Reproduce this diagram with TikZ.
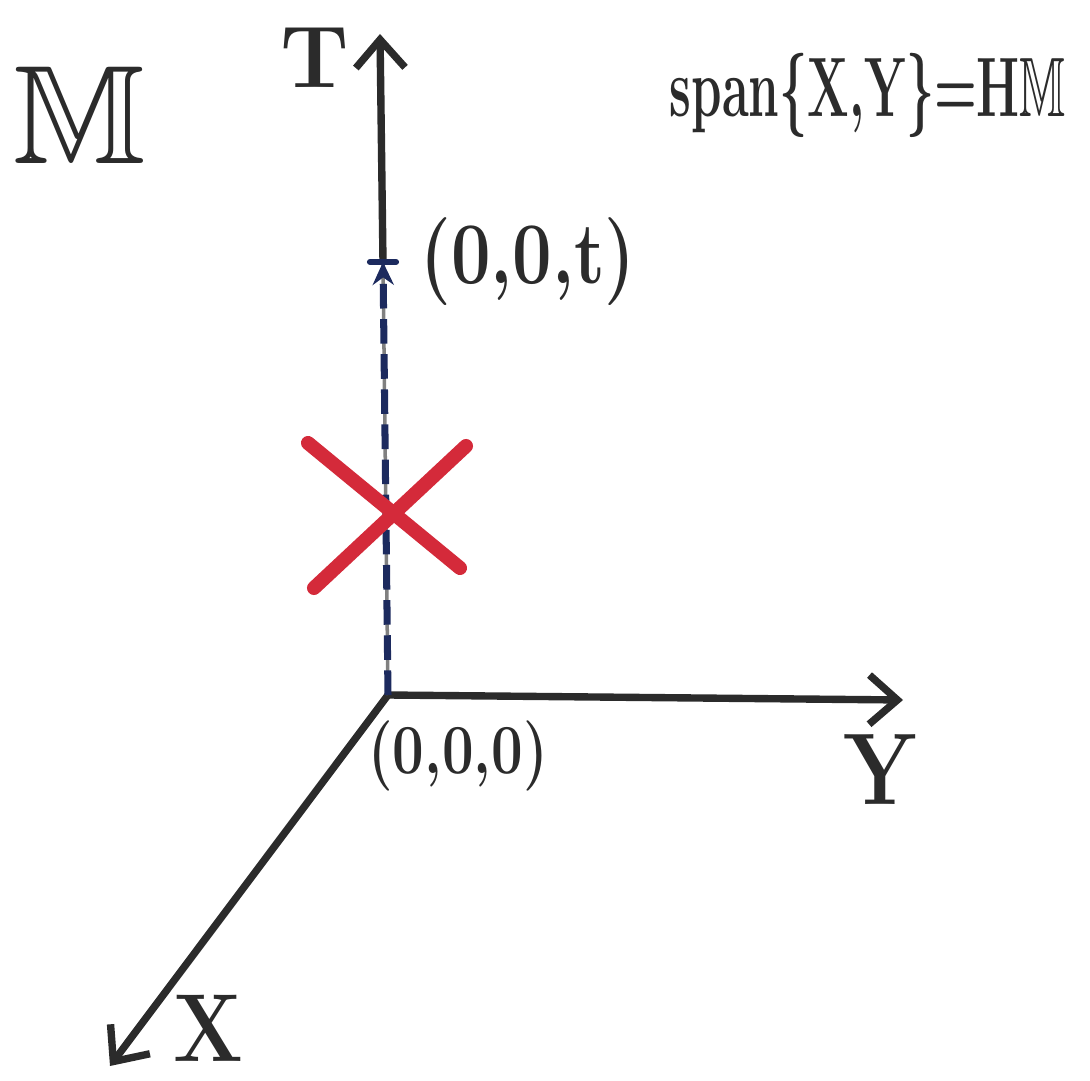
\documentclass[tikz,border=0pt]{standalone}
\usepackage{amssymb}
\usetikzlibrary{arrows.meta}
\definecolor{ink}{HTML}{2B2B2B}
\definecolor{navy}{HTML}{1C2A5E}
\definecolor{redx}{HTML}{D42A3A}
\begin{document}
\begin{tikzpicture}[x=0.02cm,y=-0.02cm,
  axis/.style={draw=ink,line width=4.2pt,line cap=round,
    -{Straight Barb[length=16pt,width=28pt,line width=4.2pt]}},
  lbl/.style={text=ink,inner sep=0pt},
  cross/.style={draw=redx,line width=8pt,line cap=round}]
\useasboundingbox (0,0) rectangle (1090,1081);
\coordinate (O) at (388,695);
\coordinate (Ttop) at (380,34);
\coordinate (Ytip) at (903,700);
\coordinate (Xtip) at (110,1066);
\coordinate (P) at (383,262);
\coordinate (PL) at (370,262);
\coordinate (PR) at (396,262);
\coordinate (r1) at (308,443);
\coordinate (r2) at (460,568);
\coordinate (r3) at (466,446);
\coordinate (r4) at (314,588);
% axes
\draw[axis] (O) -- (Ytip);
\draw[axis] (O) -- (Xtip);
\draw[axis] (P) -- (Ttop);
% dashed path to (0,0,t)
\draw[ink!60,line width=2pt] (O) -- (P);
\draw[navy,line width=4pt,dash pattern=on 14pt off 6pt,
  -{Stealth[length=13pt,width=12pt]}] (O) -- (P);
\draw[navy,line width=3.5pt,line cap=round] (PL) -- (PR);
% red cross
\draw[cross] (r1) -- (r2);
\draw[cross] (r3) -- (r4);
% labels
\node[lbl,font=\fontsize{80}{90}\selectfont] (Mlab) at (80,115) {$\mathbb{M}$};
\node[lbl,font=\fontsize{50}{60}\selectfont\bfseries] (Tlab) at (315,58) {T};
\node[lbl,font=\fontsize{48}{58}\selectfont\bfseries] (span) at (868,95)
  {\scalebox{0.58}[1]{span\{X,Y\}=H$\mathbb{M}$}};
\node[lbl,font=\fontsize{50}{60}\selectfont\bfseries] (Plab) at (528,262)
  {\scalebox{0.8}[1]{(0,0,t)}};
\node[lbl,font=\fontsize{40}{48}\selectfont\bfseries] (Olab) at (458,756)
  {\scalebox{0.8}[1]{(0,0,0)}};
\node[lbl,font=\fontsize{58}{68}\selectfont\bfseries] (Ylab) at (880,770) {\scalebox{0.85}[1]{Y}};
\node[lbl,font=\fontsize{55}{65}\selectfont\bfseries] (Xlab) at (208,1028) {\scalebox{0.85}[1]{X}};
\end{tikzpicture}
\end{document}
